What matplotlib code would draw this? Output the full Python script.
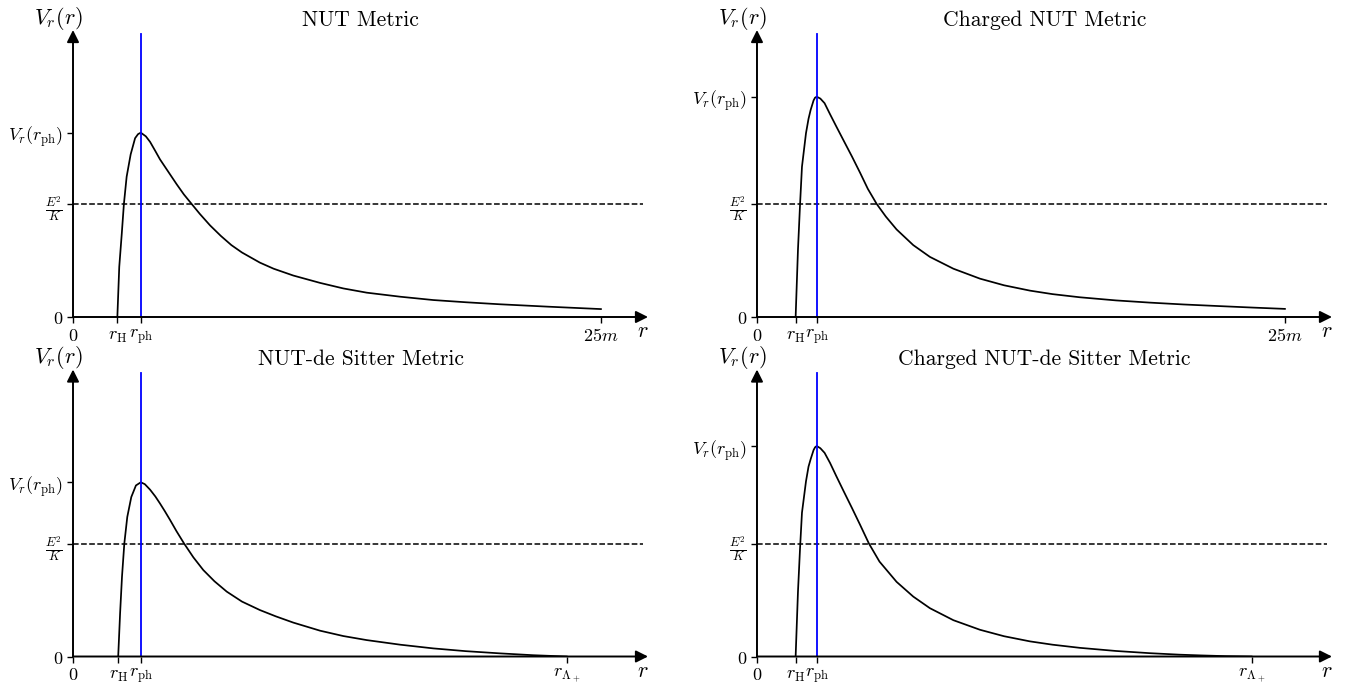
import matplotlib.pyplot as plt
import numpy as np

plt.rcParams['mathtext.fontset'] = 'cm'

# values; r in units of m, V_r scaled so the NUT peak is 1
e2k = 0.613          # level of E^2/K
x_top = 27.23        # end of the r axis (arrow tip)
y_top = 1.557        # end of the V_r axis (arrow tip)

# NUT metric
nut_rh, nut_rph, nut_rend = 2.10, 3.21, 25.0
nut_r = [2.10, 2.19, 2.31, 2.41, 2.54, 2.73, 2.94, 3.08, 3.21, 3.45, 3.65, 3.90, 4.12,
         4.50, 4.91, 5.25, 5.62, 6.00, 6.49, 7.00, 7.50, 8.00, 8.85, 9.50, 10.43, 11.70,
         12.80, 13.91, 15.50, 17.06, 18.60, 20.22, 22.50, 25.0]
nut_v = [0, 0.272, 0.453, 0.613, 0.761, 0.882, 0.970, 0.992, 1.0, 0.980, 0.950, 0.900, 0.855,
         0.790, 0.720, 0.665, 0.613, 0.560, 0.497, 0.440, 0.390, 0.350, 0.295, 0.262, 0.225, 0.185,
         0.155, 0.132, 0.110, 0.092, 0.080, 0.069, 0.056, 0.043]

# charged NUT metric
cnut_rh, cnut_rph, cnut_rend = 1.83, 2.83, 25.0
cnut_r = [1.83, 1.94, 2.04, 2.13, 2.32, 2.44, 2.54, 2.68, 2.75, 2.83, 3.00, 3.20, 3.46,
          3.75, 4.09, 4.50, 4.88, 5.25, 5.67, 6.10, 6.61, 7.40, 8.19, 9.30, 10.56, 11.70,
          12.93, 14.00, 15.29, 17.00, 18.61, 20.20, 21.92, 23.50, 25.0]
cnut_v = [0, 0.364, 0.613, 0.815, 0.997, 1.075, 1.123, 1.175, 1.190, 1.195, 1.185, 1.160, 1.100,
          1.035, 0.960, 0.870, 0.783, 0.695, 0.613, 0.545, 0.475, 0.390, 0.326, 0.262, 0.208, 0.172,
          0.143, 0.124, 0.107, 0.090, 0.078, 0.068, 0.059, 0.051, 0.044]

# NUT-de Sitter metric
nds_rh, nds_rph, nds_rl = 2.14, 3.21, 23.38
nds_r = [2.14, 2.23, 2.32, 2.43, 2.57, 2.76, 2.98, 3.21, 3.40, 3.65, 3.90, 4.12, 4.35,
         4.59, 4.90, 5.26, 5.70, 6.17, 6.70, 7.28, 8.00, 8.85, 9.60, 10.43, 11.70, 12.80,
         13.91, 15.50, 17.06, 18.60, 20.22, 21.80, 23.38]
nds_v = [0, 0.234, 0.433, 0.613, 0.757, 0.865, 0.928, 0.945, 0.935, 0.905, 0.868, 0.830, 0.788,
         0.742, 0.680, 0.613, 0.538, 0.469, 0.408, 0.352, 0.298, 0.252, 0.218, 0.184, 0.140, 0.111,
         0.089, 0.064, 0.044, 0.029, 0.017, 0.007, 0]

# charged NUT-de Sitter metric
cnds_rh, cnds_rph, cnds_rl = 1.83, 2.83, 23.42
cnds_r = [1.83, 1.94, 2.04, 2.13, 2.32, 2.44, 2.54, 2.68, 2.75, 2.83, 3.00, 3.20, 3.46,
          3.75, 4.09, 4.50, 4.88, 5.30, 5.80, 6.61, 7.40, 8.19, 9.30, 10.56, 11.70, 12.93,
          14.00, 15.29, 17.00, 18.61, 20.00, 21.00, 22.20, 23.42]
cnds_v = [0, 0.35, 0.59, 0.78, 0.95, 1.03, 1.07, 1.12, 1.135, 1.142, 1.13, 1.105, 1.05,
          0.98, 0.90, 0.805, 0.715, 0.613, 0.515, 0.405, 0.325, 0.262, 0.197, 0.145, 0.110, 0.082,
          0.064, 0.047, 0.030, 0.018, 0.010, 0.006, 0.002, 0]

panels = [
    ('NUT Metric', nut_r, nut_v, nut_rh, nut_rph, nut_rend, r'$25m$', (0.05364, 0.53655)),
    ('Charged NUT Metric', cnut_r, cnut_v, cnut_rh, cnut_rph, cnut_rend, r'$25m$', (0.5562, 0.53655)),
    ('NUT-de Sitter Metric', nds_r, nds_v, nds_rh, nds_rph, nds_rl, r'$r_{\Lambda_+}$', (0.05364, 0.0402)),
    ('Charged NUT-de Sitter Metric', cnds_r, cnds_v, cnds_rh, cnds_rph, cnds_rl, r'$r_{\Lambda_+}$', (0.5562, 0.0402)),
]

fig = plt.figure(figsize=(13.61, 6.84), dpi=100)

for title, r, v, rh, rph, rend, endlabel, (left, bottom) in panels:
    ax = fig.add_axes([left, bottom, 0.4225, 0.4196])
    ax.set_xlim(0, x_top)
    ax.set_ylim(0, y_top)
    for s in ax.spines.values():
        s.set_visible(False)

    ax.axhline(e2k, xmax=0.992, color='k', ls='--', lw=1.1, zorder=1)
    ax.plot(r, v, color='k', lw=1.25, zorder=2, solid_joinstyle='round')
    ax.axvline(rph, ymax=0.987, color='blue', lw=1.3, zorder=3)

    # axes with arrow heads
    arrow = dict(arrowstyle='-|>', color='k', lw=1.4, mutation_scale=18, shrinkA=0, shrinkB=0)
    ax.annotate('', xy=(x_top, 0), xytext=(0, 0), arrowprops=arrow, annotation_clip=False)
    ax.annotate('', xy=(0, y_top), xytext=(0, 0), arrowprops=arrow, annotation_clip=False)

    ax.set_xticks([0, rh, rph, rend],
                  ['$0$', r'$r_{\mathrm{H}}$', r'$r_{\mathrm{ph}}$', endlabel])
    ax.set_yticks([0, e2k, max(v)],
                  ['$0$', r'$\frac{E^2}{K}$', r'$V_r(r_{\mathrm{ph}})$'])
    ax.tick_params(direction='out', length=4, width=1, labelsize=13, pad=3)

    ax.annotate('$r$', xy=(0.991, 0), xycoords='axes fraction', xytext=(0, -14),
                textcoords='offset pixels', ha='center', va='center', fontsize=16)
    ax.annotate('$V_r(r)$', xy=(0, 1), xycoords='axes fraction', xytext=(-15, 6),
                textcoords='offset pixels', ha='center', va='baseline', fontsize=16)
    ax.set_title(title, fontsize=15.5, fontfamily='cmr10', pad=3)

fig.savefig('out.png', dpi=100)
